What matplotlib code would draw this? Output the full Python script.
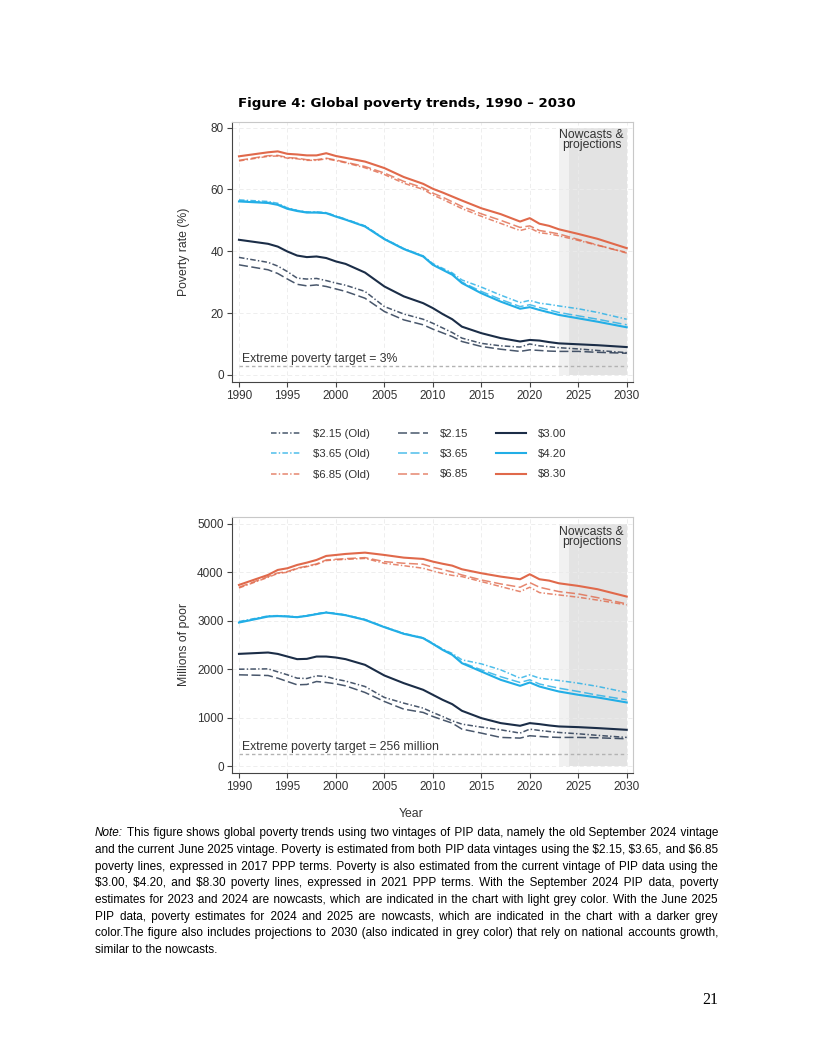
import matplotlib
matplotlib.use("Agg")
import matplotlib.pyplot as plt

plt.rcParams['text.parse_math'] = False
plt.rcParams['lines.scale_dashes'] = False
plt.rcParams['font.family'] = ['Liberation Sans', 'DejaVu Sans']

# ---- data ----
years = [1990, 1993, 1994, 1995, 1996, 1997, 1998, 1999, 2000, 2001, 2003, 2005, 2007, 2009,
         2010, 2011, 2012, 2013, 2015, 2017, 2019, 2020, 2021, 2022, 2023, 2025, 2027, 2030]

# poverty rate (%)
rate_215_old = [38.0, 36.4, 35.2, 33.4, 31.3, 31.0, 31.2, 30.5, 29.7, 29.0, 27.0, 22.1, 19.7, 18.0,
                16.7, 15.2, 13.7, 11.9, 10.2, 9.4, 9.0, 10.0, 9.4, 9.1, 8.8, 8.4, 7.9, 7.2]
rate_365_old = [56.6, 56.1, 55.5, 54.0, 53.2, 52.7, 52.7, 52.5, 51.4, 50.4, 48.2, 44.1, 40.9, 38.5,
                36.0, 34.5, 33.0, 30.7, 28.4, 25.8, 23.4, 24.1, 23.2, 22.8, 22.3, 21.4, 20.2, 18.0]
rate_685_old = [69.2, 70.7, 70.8, 70.1, 69.9, 69.4, 69.4, 69.9, 69.3, 68.6, 67.0, 64.8, 62.0, 60.0,
                58.2, 56.8, 55.3, 53.8, 51.3, 49.0, 46.7, 47.5, 46.0, 45.6, 45.0, 43.5, 41.9, 39.6]
rate_215 = [35.6, 34.0, 32.8, 31.0, 29.3, 28.8, 29.1, 28.6, 27.8, 27.0, 24.8, 20.5, 17.8, 16.2,
            14.8, 13.6, 12.4, 10.8, 9.2, 8.3, 7.6, 8.1, 7.9, 7.7, 7.6, 7.6, 7.3, 7.0]
rate_365 = [56.3, 55.8, 55.2, 53.9, 53.2, 52.6, 52.6, 52.4, 51.3, 50.3, 48.1, 44.0, 40.8, 38.4,
            35.8, 34.2, 32.7, 30.0, 27.0, 24.4, 22.1, 22.7, 21.8, 21.0, 20.2, 19.1, 18.0, 16.2]
rate_685 = [69.4, 70.9, 71.0, 70.3, 70.1, 69.6, 69.6, 70.1, 69.5, 68.8, 67.4, 65.3, 62.6, 60.5,
            58.8, 57.5, 56.0, 54.5, 52.1, 50.0, 47.7, 48.2, 46.7, 46.2, 45.6, 43.8, 42.0, 39.4]
rate_300 = [43.7, 42.4, 41.5, 39.9, 38.6, 38.1, 38.3, 37.8, 36.7, 35.9, 33.1, 28.6, 25.4, 23.2,
            21.6, 19.7, 18.0, 15.6, 13.5, 11.9, 10.8, 11.3, 11.1, 10.6, 10.2, 9.9, 9.6, 9.0]
rate_420 = [56.1, 55.6, 55.0, 53.7, 53.0, 52.5, 52.5, 52.3, 51.2, 50.2, 48.0, 43.9, 40.7, 38.3,
            35.6, 34.0, 32.4, 29.7, 26.4, 23.7, 21.4, 21.9, 21.0, 20.2, 19.4, 18.3, 17.2, 15.4]
rate_830 = [70.7, 72.0, 72.3, 71.5, 71.3, 71.0, 71.0, 71.7, 70.8, 70.2, 69.0, 66.9, 64.0, 61.8,
            60.2, 59.0, 57.7, 56.4, 53.9, 52.0, 49.6, 50.7, 48.9, 48.2, 47.1, 45.6, 44.0, 41.0]

# millions of poor
poor_215_old = [2005, 2012, 1950, 1889, 1820, 1813, 1868, 1854, 1799, 1760, 1648, 1422, 1305, 1202,
                1113, 1030, 941, 872, 810, 755, 687, 769, 742, 720, 700, 673, 640, 598]
poor_365_old = [2988, 3104, 3110, 3100, 3085, 3110, 3150, 3180, 3155, 3125, 3030, 2880, 2745, 2655,
                2540, 2420, 2330, 2198, 2115, 1992, 1820, 1889, 1820, 1795, 1772, 1717, 1650, 1525]
poor_685_old = [3680, 3900, 3980, 4005, 4080, 4120, 4165, 4245, 4260, 4270, 4290, 4190, 4140, 4087,
                4030, 3980, 3940, 3915, 3812, 3709, 3606, 3695, 3585, 3560, 3537, 3489, 3430, 3331]
poor_215 = [1889, 1875, 1820, 1751, 1683, 1690, 1751, 1731, 1703, 1662, 1525, 1339, 1181, 1113,
            1030, 960, 893, 769, 687, 598, 584, 632, 618, 605, 598, 598, 590, 570]
poor_365 = [2975, 3095, 3105, 3095, 3080, 3107, 3143, 3176, 3150, 3122, 3026, 2875, 2738, 2648,
            2532, 2410, 2310, 2145, 1992, 1850, 1731, 1786, 1700, 1655, 1614, 1545, 1470, 1374]
poor_685 = [3695, 3915, 3990, 4018, 4090, 4130, 4176, 4258, 4272, 4285, 4306, 4224, 4190, 4169,
            4107, 4060, 4010, 3949, 3846, 3764, 3695, 3791, 3695, 3650, 3606, 3558, 3480, 3352]
poor_300 = [2321, 2349, 2320, 2266, 2212, 2218, 2266, 2266, 2246, 2212, 2095, 1875, 1717, 1580,
            1477, 1374, 1284, 1147, 996, 893, 838, 893, 872, 845, 824, 810, 790, 755]
poor_420 = [2967, 3091, 3100, 3091, 3077, 3104, 3140, 3173, 3146, 3118, 3022, 2871, 2734, 2644,
            2527, 2404, 2301, 2129, 1957, 1786, 1662, 1731, 1648, 1595, 1545, 1477, 1422, 1319]
poor_830 = [3743, 3949, 4052, 4087, 4155, 4203, 4258, 4341, 4361, 4382, 4409, 4361, 4306, 4279,
            4224, 4180, 4141, 4066, 3984, 3915, 3860, 3963, 3860, 3832, 3777, 3723, 3654, 3503]

labels = ['$2.15 (Old)', '$3.65 (Old)', '$6.85 (Old)',
          '$2.15', '$3.65', '$6.85',
          '$3.00', '$4.20', '$8.30']
rate_series = [rate_215_old, rate_365_old, rate_685_old, rate_215, rate_365, rate_685,
               rate_300, rate_420, rate_830]
poor_series = [poor_215_old, poor_365_old, poor_685_old, poor_215, poor_365, poor_685,
               poor_300, poor_420, poor_830]

rate_target = 3
poor_target = 256
light_nowcast = (2023, 2024)
dark_nowcast = (2024, 2030)

NAVY, BLUE, ORANGE = '#1b2d47', '#22aee6', '#e0694b'
colors = [NAVY, BLUE, ORANGE] * 3
line_styles = ([dict(dashes=(4, 1.6, 1, 1.6), lw=1.1, alpha=0.8)] * 3 +
               [dict(dashes=(6.5, 2.5), lw=1.1, alpha=0.8)] * 3 +
               [dict(ls='-', lw=1.5)] * 3)

TXT = '#333333'
W, H = 816, 1056
fig = plt.figure(figsize=(W / 100, H / 100), dpi=100)


def box(l, t, r, b):
    return [l / W, 1 - b / H, (r - l) / W, (b - t) / H]


def draw_panel(ax, series, ylim, yticks, target, target_label, note_y, ylabel):
    top = yticks[-1]
    ax.fill_between(light_nowcast, 0, top, color='#f1f1f1', lw=0, zorder=0)
    ax.fill_between(dark_nowcast, 0, top, color='#e3e3e3', lw=0, zorder=0)
    for v in range(1990, 2031, 5):
        ax.axvline(v, color='#ebebeb', lw=0.6, ls=(0, (3, 2)), zorder=0.5)
    for v in yticks:
        ax.axhline(v, color='#ebebeb', lw=0.6, ls=(0, (3, 2)), zorder=0.5)
    handles = []
    for data, lab, col, st in zip(series, labels, colors, line_styles):
        ln, = ax.plot(years, data, color=col, label=lab, zorder=2, **st)
        handles.append(ln)
    ax.plot([1990, 2030], [target, target], color='#b3b3b3', lw=1.0, dashes=(2.5, 2), zorder=1)
    ax.text(1990.3, target + (ylim[1] - ylim[0]) * 0.004, target_label, fontsize=8.8,
            color=TXT, va='bottom', ha='left')
    ax.text(2026.4, note_y, 'Nowcasts &\nprojections', fontsize=8.8, color=TXT,
            ha='center', va='top', linespacing=0.82)
    ax.set_xlim(1989.28, 2030.65)
    ax.set_ylim(*ylim)
    ax.set_xticks(range(1990, 2031, 5))
    ax.set_yticks(yticks)
    ax.tick_params(direction='out', length=3.5, width=0.8, colors='#444444',
                   labelcolor=TXT, labelsize=8.5, pad=2.5)
    for side in ['left', 'bottom']:
        ax.spines[side].set_color('#444444')
        ax.spines[side].set_linewidth(0.8)
    for side in ['top', 'right']:
        ax.spines[side].set_color('#c8c8c8')
        ax.spines[side].set_linewidth(0.8)
    ax.set_ylabel(ylabel, fontsize=8.8, color=TXT)
    ax.yaxis.set_label_coords(-0.105, 0.5)
    return handles


ax1 = fig.add_axes(box(232, 122, 633, 382))
ax2 = fig.add_axes(box(232, 517, 633, 773))
handles = draw_panel(ax1, rate_series, (-2.3, 81.8), [0, 20, 40, 60, 80], rate_target,
                     'Extreme poverty target = 3%', 79.6, 'Poverty rate (%)')
draw_panel(ax2, poor_series, (-136, 5144), [0, 1000, 2000, 3000, 4000, 5000], poor_target,
           'Extreme poverty target = 256 million', 4960, 'Millions of poor')

fig.text(407 / W, 1 - 104 / H, 'Figure 4: Global poverty trends, 1990 \u2013 2030',
         ha='center', va='center', fontsize=9.6, weight='bold', family='DejaVu Sans')
fig.text(411 / W, 1 - 814 / H, 'Year', ha='center', va='center', fontsize=8.8, color=TXT)

# legend, three columns placed separately
for i, x0 in enumerate([271, 398, 496]):
    fig.legend(handles=handles[3 * i:3 * i + 3], loc='upper left',
               bbox_to_anchor=(x0 / W, 1 - 429 / H), frameon=False, fontsize=8.2,
               handlelength=2.6, handletextpad=1.1, labelspacing=0.9,
               borderpad=0, borderaxespad=0, labelcolor=TXT)

# note paragraph, justified: one text per line, gaps padded with hair spaces
note_lines = [
    "Note: This figure shows global poverty trends using two vintages of PIP data, namely the old September 2024 vintage",
    "and the current June 2025 vintage. Poverty is estimated from both PIP data vintages using the $2.15, $3.65, and $6.85",
    "poverty lines, expressed in 2017 PPP terms. Poverty is also estimated from the current vintage of PIP data using the",
    "$3.00, $4.20, and $8.30 poverty lines, expressed in 2021 PPP terms. With the September 2024 PIP data, poverty",
    "estimates for 2023 and 2024 are nowcasts, which are indicated in the chart with light grey color. With the June 2025",
    "PIP data, poverty estimates for 2024 and 2025 are nowcasts, which are indicated in the chart with a darker grey",
    "color.The figure also includes projections to 2030 (also indicated in grey color) that rely on national accounts growth,",
    "similar to the nowcasts.",
]
note_family = ['Liberation Sans', 'DejaVu Sans']
HAIR = '\u200a'
renderer = fig.canvas.get_renderer()


def tw(s, size, style='normal'):
    t = fig.text(0, 0, s, fontsize=size, family=note_family, style=style)
    w = t.get_window_extent(renderer).width
    t.remove()
    return w


left, right = 95, 718
base = 10.0
space = tw('x x', base) - tw('xx', base)
natural = []
for k, line in enumerate(note_lines):
    words = line.split(' ')
    ws = [tw(w, base, 'italic' if (k == 0 and j == 0) else 'normal') for j, w in enumerate(words)]
    natural.append(sum(ws) + space * (len(words) - 1))
size = base * (right - left) / max(natural) * 0.99
hair = (tw('x' + HAIR * 10 + 'x', size) - tw('xx', size)) / 10

for k, line in enumerate(note_lines):
    words = line.split(' ')
    ws = [tw(w, size, 'italic' if (k == 0 and j == 0) else 'normal') for j, w in enumerate(words)]
    yb = 1 - round(832 + k * 16.7 + 0.36 * size * 100 / 72) / H
    if k == len(note_lines) - 1:
        fig.text(left / W, yb, line, fontsize=size, family=note_family, va='baseline', ha='left')
        continue
    gap = (right - left - sum(ws)) / (len(words) - 1)
    x0 = left
    if k == 0:
        fig.text(left / W, yb, words[0], fontsize=size, family=note_family, style='italic',
                 va='baseline', ha='left')
        x0 = left + ws[0] + gap
        words, ws = words[1:], ws[1:]
    s = words[0]
    for j in range(1, len(words)):
        target = sum(ws[:j]) + j * gap
        wn = tw(words[j], size)
        p0 = tw(s + ' ' + words[j], size) - wn
        if target >= p0 - hair / 2:
            sep = ' ' + HAIR * max(0, round((target - p0) / hair))
        else:
            pz = tw(s + words[j], size) - wn
            sep = HAIR * max(1, round((target - pz) / hair))
        s += sep + words[j]
    fig.text(x0 / W, yb, s, fontsize=size, family=note_family, va='baseline', ha='left')

fig.text(718 / W, 1 - 1000 / H, '21', ha='right', va='center', fontsize=11.5,
         family=['Liberation Serif', 'DejaVu Serif'])

fig.savefig('out.png', dpi=100)
